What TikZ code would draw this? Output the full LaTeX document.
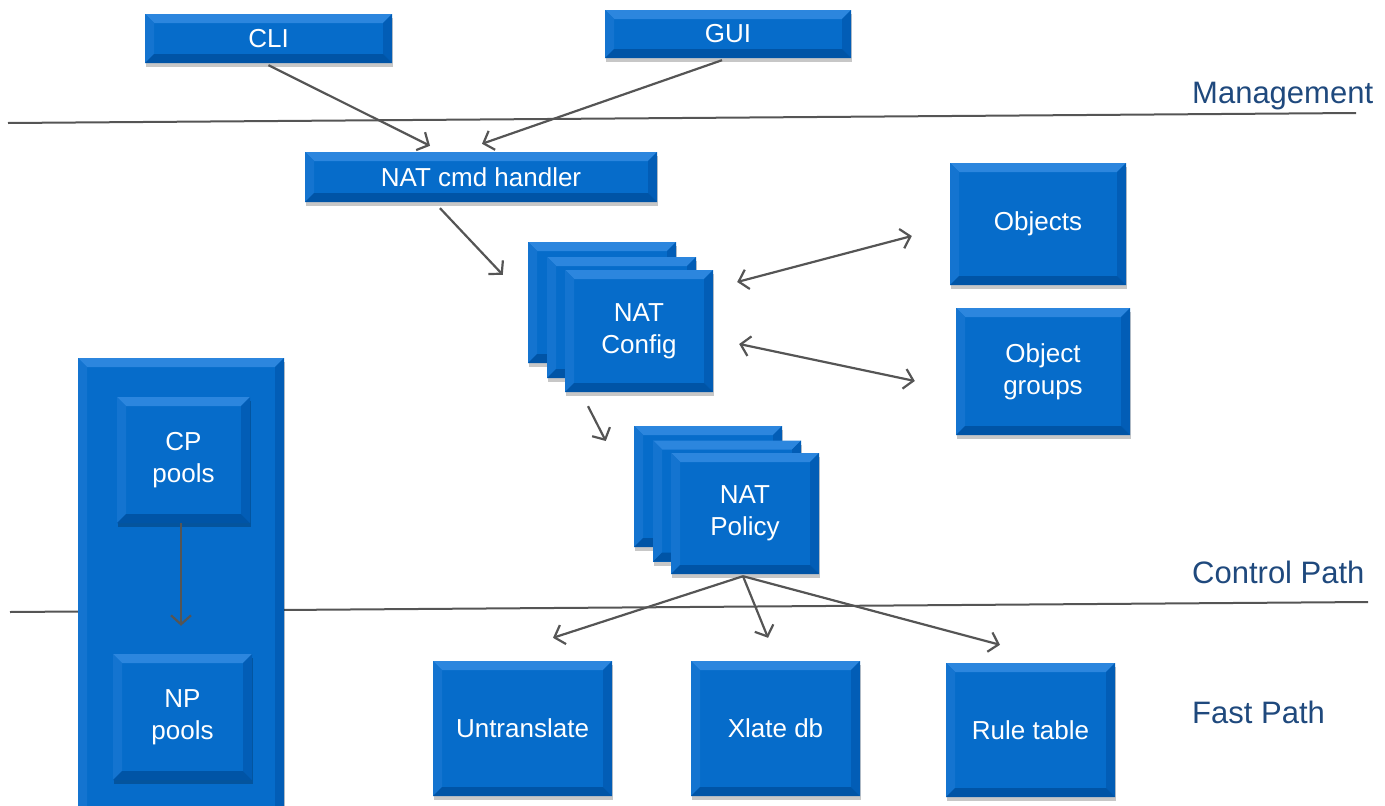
\documentclass[tikz,border=0pt]{standalone}
\usepackage{fontspec}
\setmainfont{Liberation Sans}
\usetikzlibrary{arrows.meta,calc,shadows}
\definecolor{boxblue}{RGB}{6,108,202}
\definecolor{bevtopc}{RGB}{44,134,222}
\definecolor{bevleftc}{RGB}{20,116,208}
\definecolor{bevrightc}{RGB}{2,93,182}
\definecolor{bevbotc}{RGB}{0,84,166}
\definecolor{linkgray}{RGB}{85,85,85}
\definecolor{layerblue}{RGB}{31,73,125}
\newcommand{\bevw}{9pt}
\tikzset{
  blk/.style={draw=none, fill=boxblue, text=white, align=center, inner sep=0pt,
    font=\fontsize{26}{32}\selectfont,
    drop shadow={shadow xshift=1pt,shadow yshift=-4pt,opacity=0.22,fill=black},
    path picture={
      \path (path picture bounding box.north west) coordinate (bNW)
            (path picture bounding box.north east) coordinate (bNE)
            (path picture bounding box.south east) coordinate (bSE)
            (path picture bounding box.south west) coordinate (bSW);
      \fill[bevtopc] (bNW) -- (bNE) -- ([shift={(-\bevw,-\bevw)}]bNE) -- ([shift={(\bevw,-\bevw)}]bNW) -- cycle;
      \fill[bevleftc] (bNW) -- ([shift={(\bevw,-\bevw)}]bNW) -- ([shift={(\bevw,\bevw)}]bSW) -- (bSW) -- cycle;
      \fill[bevrightc] (bNE) -- (bSE) -- ([shift={(-\bevw,\bevw)}]bSE) -- ([shift={(-\bevw,-\bevw)}]bNE) -- cycle;
      \fill[bevbotc] (bSW) -- ([shift={(\bevw,\bevw)}]bSW) -- ([shift={(-\bevw,\bevw)}]bSE) -- (bSE) -- cycle;
    }},
  sz/.style 2 args={minimum width=#1pt, minimum height=#2pt},
  arr/.style={draw=linkgray, line width=2.2pt, -{Straight Barb[length=9pt,width=20pt]}},
  biarr/.style={draw=linkgray, line width=2.2pt, {Straight Barb[length=9pt,width=20pt]}-{Straight Barb[length=9pt,width=20pt]}},
  layerline/.style={draw=linkgray, line width=2pt},
  layer/.style={anchor=west, text=layerblue, inner sep=0pt, font=\fontsize{31}{36}\selectfont},
}
\begin{document}
\begin{tikzpicture}[x=1pt,y=-1pt]
\useasboundingbox (0,0) rectangle (1385,806);

% layer separators
\coordinate (m1) at (8,123);
\coordinate (m2) at (1356,113);
\coordinate (c1) at (10,612);
\coordinate (c2) at (1368,602);
\draw[layerline] (m1) -- (m2);
\draw[layerline] (c1) -- (c2);
\node[layer] (lmgmt) at (1192,96) {Management};
\node[layer] (lctrl) at (1192,572) {Control Path};
\node[layer] (lfast) at (1192,712) {Fast Path};

% management
\node[blk, sz={247}{49}] (cli) at (268.5,38.5) {CLI};
\node[blk, sz={246}{48}] (gui) at (728,34) {GUI};

% control path
\node[blk, sz={352}{50}] (cmd) at (481,177) {NAT cmd handler};
\node[blk, sz={148}{121}] (cfgA) at (602,302.5) {};
\node[blk, sz={149}{121}] (cfgB) at (621.5,317.5) {};
\node[blk, sz={148}{122}] (cfg) at (639,331) {NAT\\Config};
\node[blk, sz={176}{122}] (obj) at (1038,224) {Objects};
\node[blk, sz={174}{127}] (objg) at (1043,371.5) {Object\\groups};
\node[blk, sz={148}{121}] (polA) at (708,486.5) {};
\node[blk, sz={148}{121}] (polB) at (727,501) {};
\node[blk, sz={148}{121}] (pol) at (745,513.5) {NAT\\Policy};

% pools column
\node[blk, sz={206}{484}] (pools) at (181,600) {};
\node[blk, sz={133}{126}] (cp) at (183.5,460) {CP\\pools};
\node[blk, sz={139}{126}] (np) at (182.5,717) {NP\\pools};

% fast path
\node[blk, sz={179}{135}] (unt) at (522.5,728.5) {Untranslate};
\node[blk, sz={169}{135}] (xdb) at (775.5,728.5) {Xlate db};
\node[blk, sz={169}{134}] (rule) at (1030.5,730) {Rule table};

% connectors
\draw[arr] ($(cli.south)+(0,2)$) -- ($(cmd.north)+(-51,-6)$);
\draw[arr] ($(gui.south)+(-6,2)$) -- ($(cmd.north)+(1,-8)$);
\draw[arr] ($(cmd.south)+(-41,6)$) -- ($(cfgA.north west)+(-25,33)$);
\draw[biarr] ($(cfg.east)+(24,-49)$) -- ($(obj.west)+(-38,12)$);
\draw[biarr] ($(cfg.east)+(26,13)$) -- ($(objg.west)+(-41,9.5)$);
\draw[arr] ($(cfg.south)+(-51,14)$) -- ($(polA.west)+(-28,-45.5)$);
\draw[arr] ($(pol.south)+(-2,2)$) -- ($(unt.north)+(30.5,-23)$);
\draw[arr] ($(pol.south)+(-2,2)$) -- ($(xdb.north)+(-7.5,-23)$);
\draw[arr] ($(pol.south)+(-2,2)$) -- ($(rule.north)+(-30.5,-18)$);
\draw[arr] ($(cp.south)+(-2.5,0)$) -- ($(np.north)+(-1.5,-28)$);
\end{tikzpicture}
\end{document}
